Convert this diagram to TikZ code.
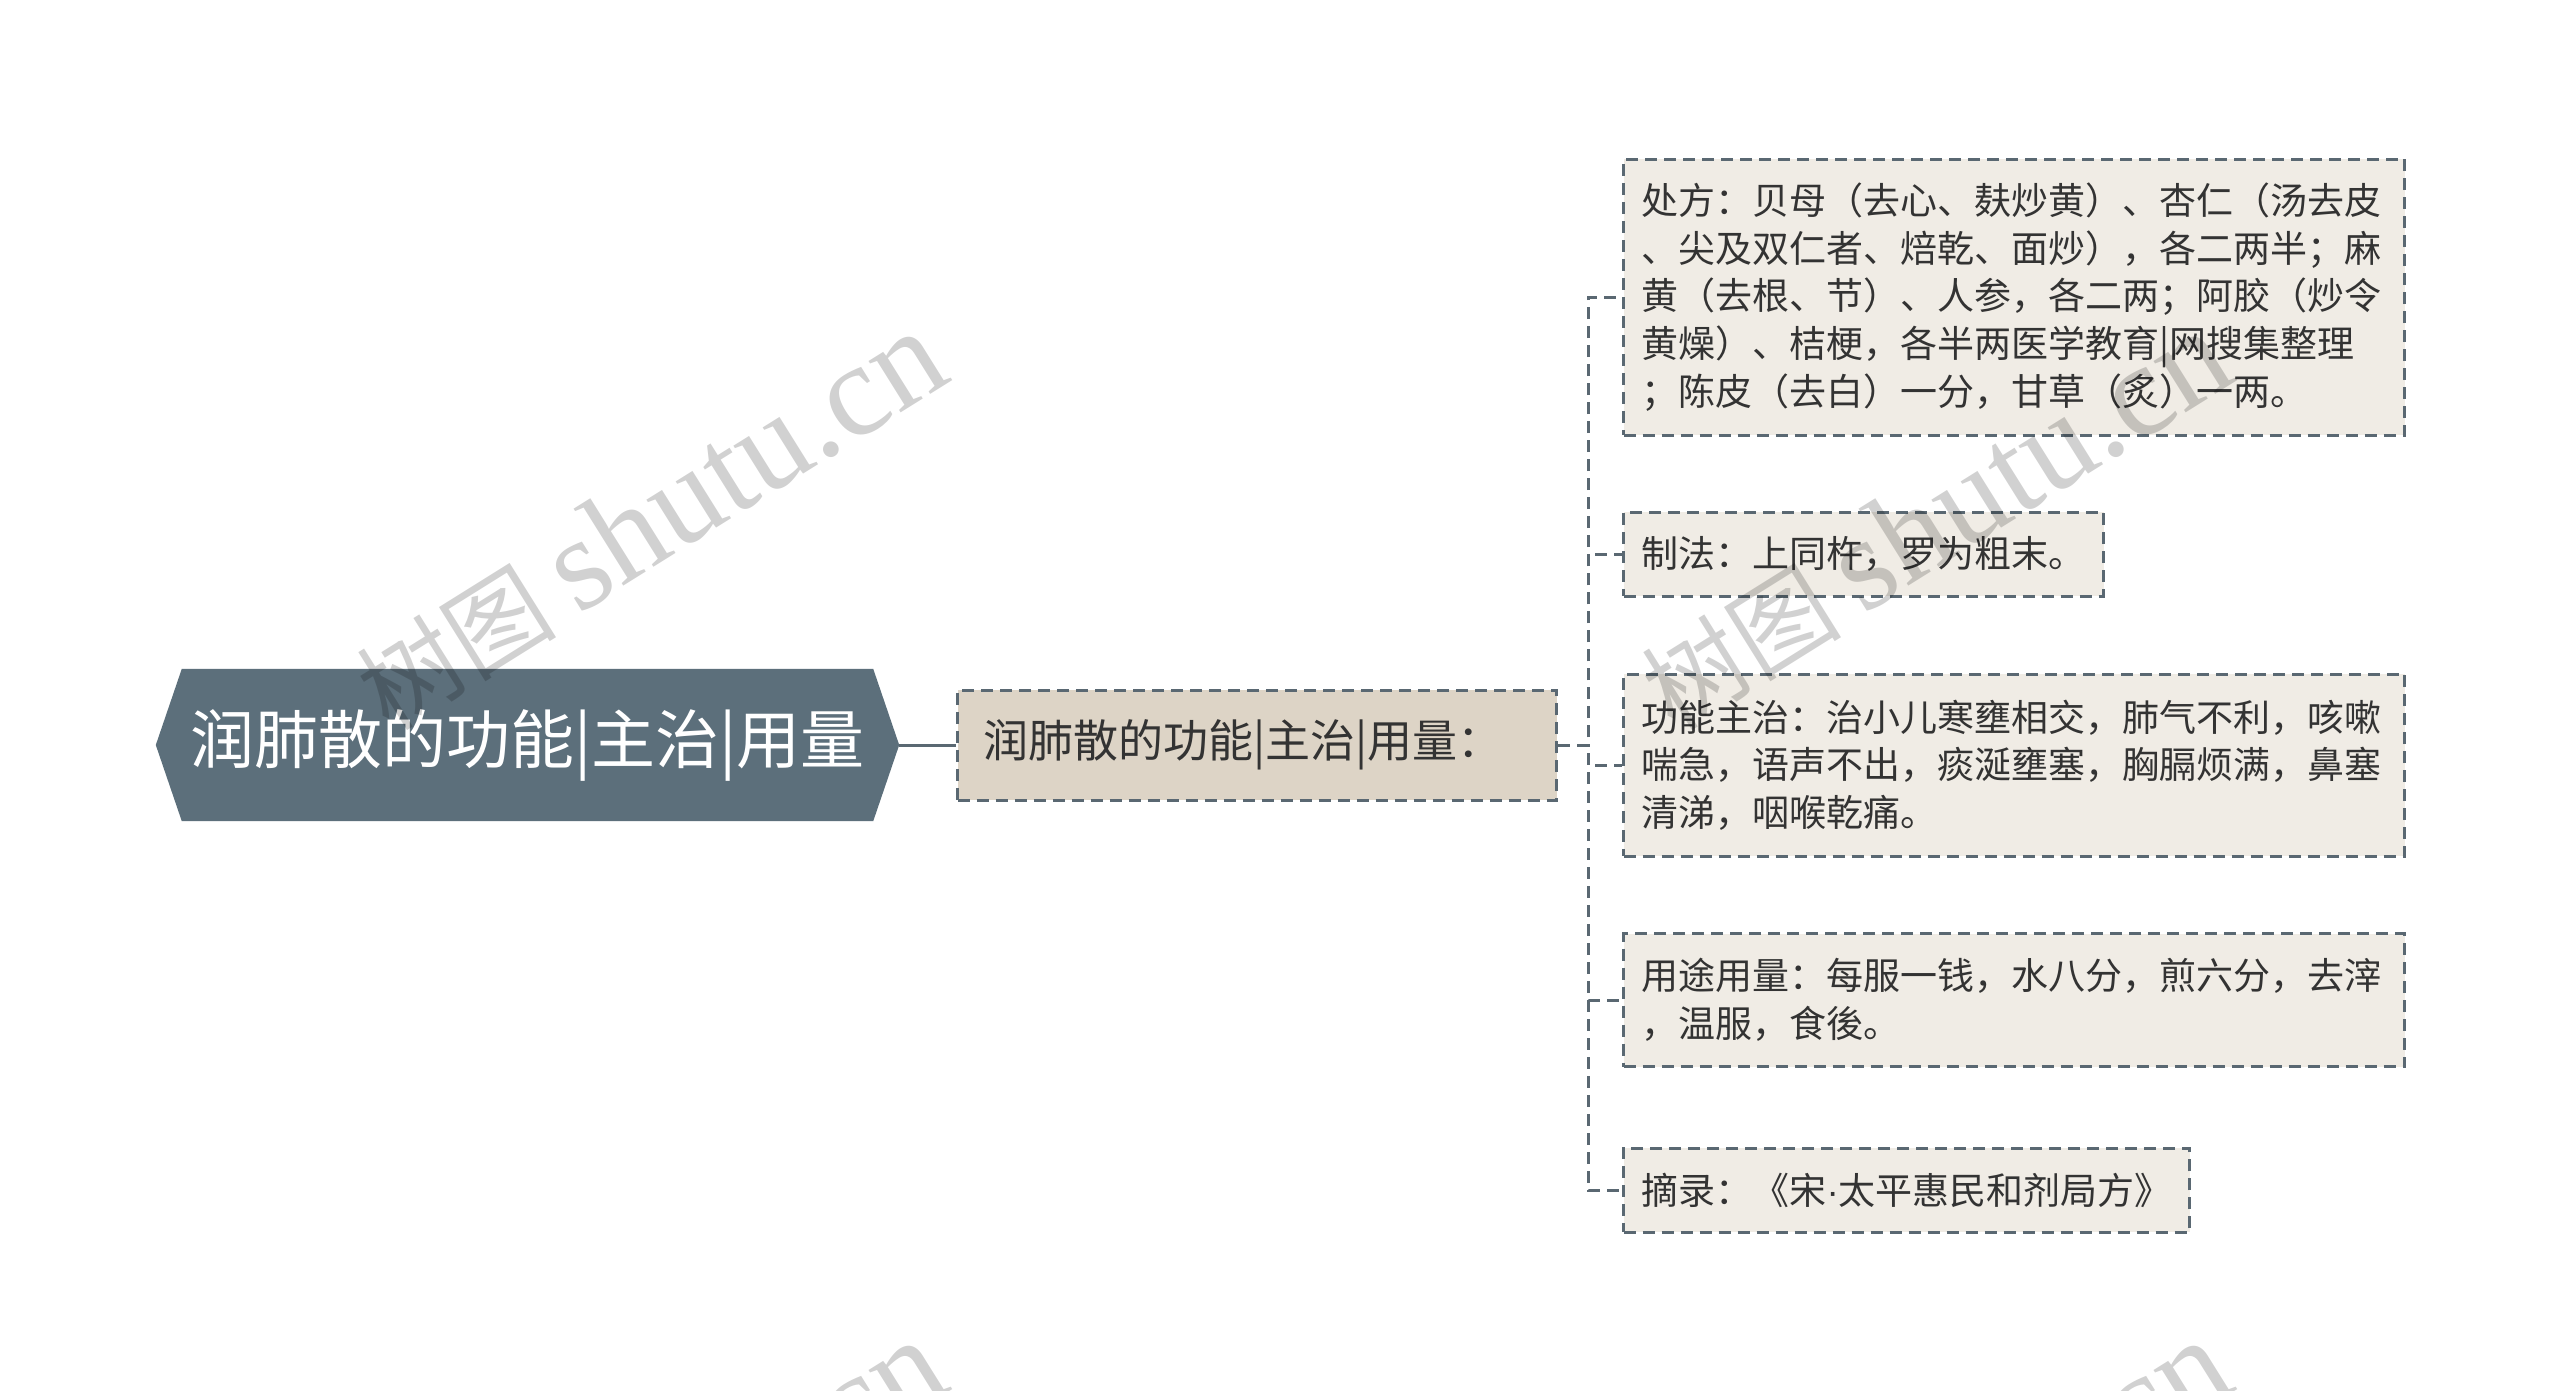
\documentclass[tikz,border=0pt]{standalone}
\usepackage{fontspec}
\setmainfont{Noto Sans CJK SC}
\newfontfamily\wmserif{Liberation Serif}
\newfontfamily\latinsans{Liberation Sans}
\usetikzlibrary{calc,backgrounds}
\definecolor{rootfill}{HTML}{5C6F7B}
\definecolor{edgecol}{HTML}{5A6872}
\definecolor{midfill}{HTML}{DDD4C6}
\definecolor{leaffill}{HTML}{F0ECE5}
\definecolor{txt}{HTML}{333333}
\begin{document}
\begin{tikzpicture}[x=1pt,y=-1pt,
  dashbox/.style={draw=edgecol, line width=3pt, dash pattern=on 12pt off 7pt},
  leaf/.style={dashbox, fill=leaffill, text=txt, anchor=west, align=left,
    inner xsep=18pt, inner ysep=0pt, font=\fontsize{37pt}{47.6pt}\selectfont},
  conn/.style={draw=edgecol, line width=3pt, dash pattern=on 12pt off 7pt},
  wm/.style={text=black, opacity=0.18, rotate=32, inner sep=0pt,
    font=\fontsize{100pt}{100pt}\selectfont}
]
\useasboundingbox (0,0) rectangle (2560,1390);
\clip (0,0) rectangle (2560,1390);

% root
\node[minimum width=743pt, minimum height=152pt, inner sep=0pt, text=white,
  font=\fontsize{64pt}{64pt}\selectfont] (root) at (527.5,745) {润肺散的功能|主治|用量};
\begin{scope}[on background layer]
\fill[white] (0,0) rectangle (2560,1390);
\fill[rootfill] (root.west) -- ($(root.north west)+(26,0)$) -- ($(root.north east)+(-26,0)$)
  -- (root.east) -- ($(root.south east)+(-26,0)$) -- ($(root.south west)+(26,0)$) -- cycle;
\end{scope}

% middle
\node[dashbox, fill=midfill, text=txt, minimum width=599pt, minimum height=110pt,
  text width=547pt, align=left, inner xsep=26pt, inner ysep=0pt,
  font=\fontsize{45pt}{45pt}\selectfont] (mid) at (1257,745) {润肺散的功能|主治|用量：};

% leaves
\node[leaf, text width=745pt, minimum height=276pt] (c1) at (1622,297) {处方：贝母（去心、麸炒黄）、杏仁（汤去皮\\、尖及双仁者、焙乾、面炒），各二两半；麻\\黄（去根、节）、人参，各二两；阿胶（炒令\\黄燥）、桔梗，各半两医学教育|网搜集整理\\；陈皮（去白）一分，甘草（炙）一两。};
\node[leaf, minimum height=84pt] (c2) at (1622,554) {制法：上同杵，罗为粗末。};
\node[leaf, text width=745pt, minimum height=182pt] (c3) at (1622,765) {功能主治：治小儿寒壅相交，肺气不利，咳嗽\\喘急，语声不出，痰涎壅塞，胸膈烦满，鼻塞\\清涕，咽喉乾痛。};
\node[leaf, text width=745pt, minimum height=133pt] (c4) at (1622,1000) {用途用量：每服一钱，水八分，煎六分，去滓\\，温服，食後。};
\node[leaf, minimum height=84pt] (c5) at (1622,1190) {摘录：《宋{\latinsans ·}太平惠民和剂局方》};

% connectors
\draw[edgecol, line width=3pt] (root.east) -- (mid.west);
\coordinate (trunk) at (1588,745);
\foreach \c in {c1,c2,c3,c4,c5}{
  \draw[conn] (mid.east) -- (trunk) |- (\c.west);
}

% watermarks
\node[wm] (wm1) at (650,521) {树图 {\wmserif\fontsize{132pt}{132pt}\selectfont shutu.cn}};
\node[wm] (wm2) at (1935,521) {树图 {\wmserif\fontsize{132pt}{132pt}\selectfont shutu.cn}};
\node[wm] (wm3) at (650,1530) {树图 {\wmserif\fontsize{132pt}{132pt}\selectfont shutu.cn}};
\node[wm] (wm4) at (1935,1530) {树图 {\wmserif\fontsize{132pt}{132pt}\selectfont shutu.cn}};
\end{tikzpicture}
\end{document}
